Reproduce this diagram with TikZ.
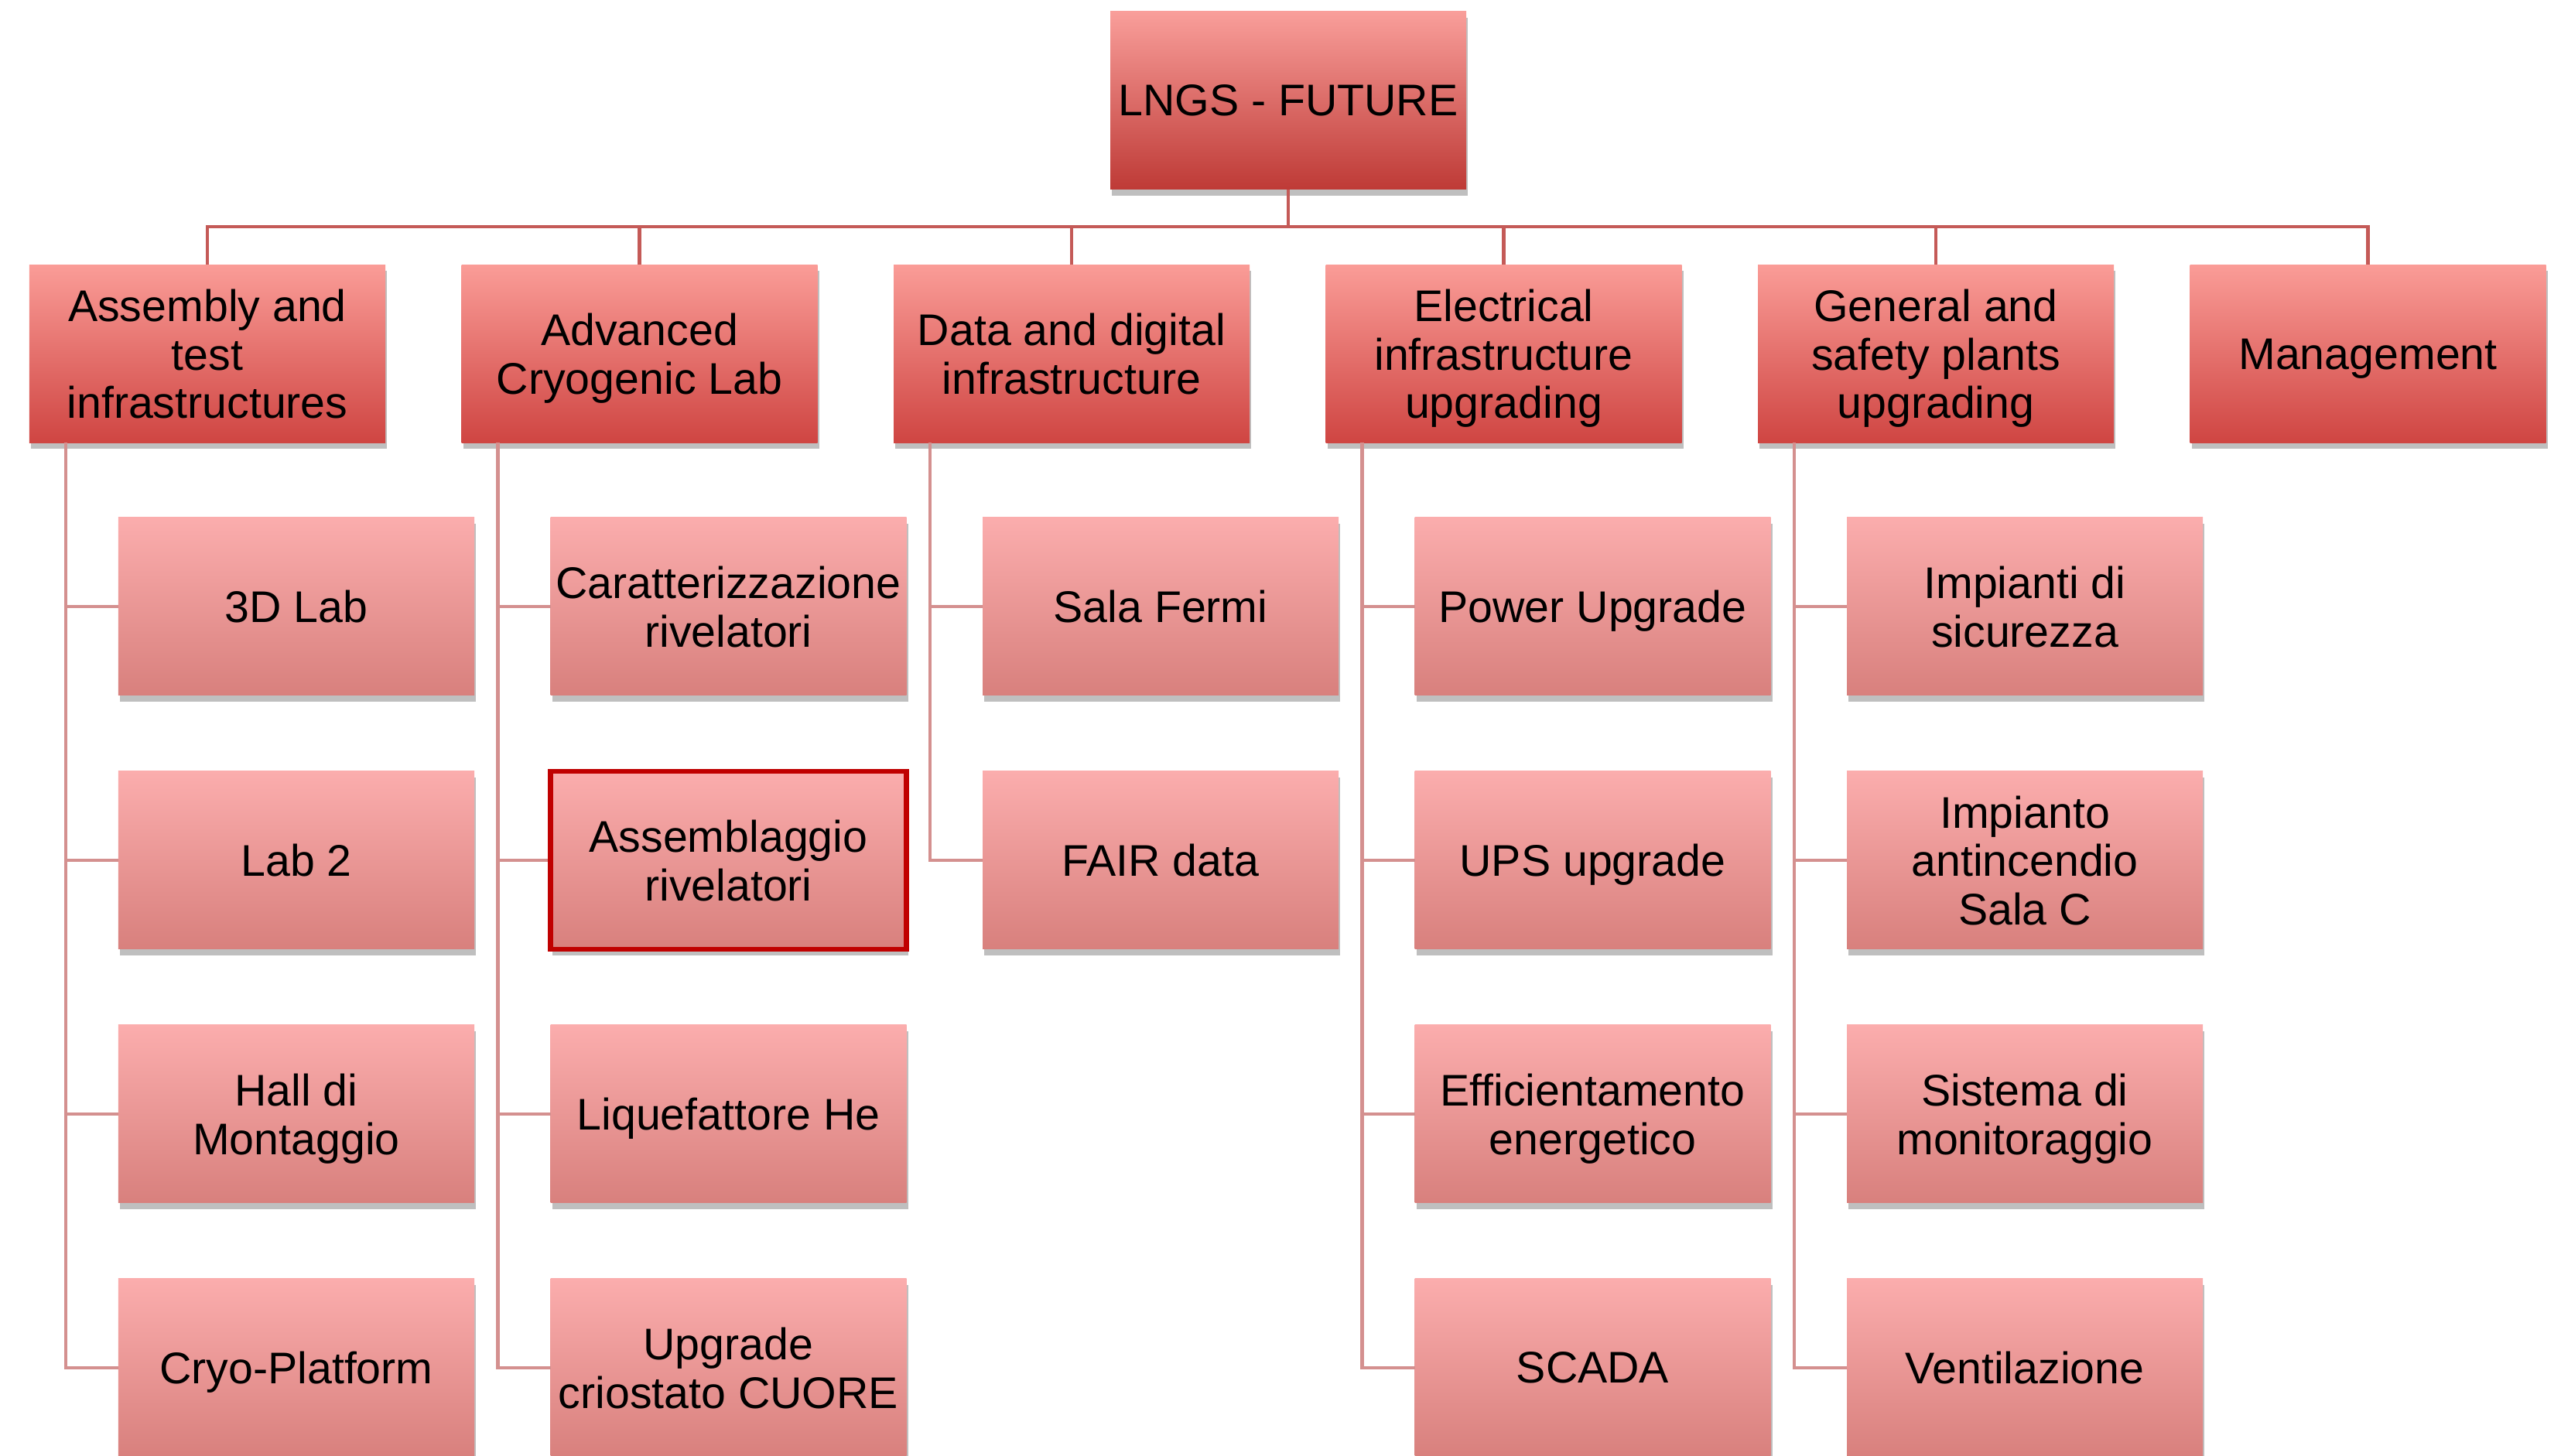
\documentclass[tikz,border=0pt]{standalone}
\usepackage{fontspec}
\setmainfont{Liberation Sans}
\usetikzlibrary{shadows}

\definecolor{busred}{HTML}{C45A57}
\definecolor{linkred}{HTML}{D4908F}
\definecolor{markred}{HTML}{C00000}

\tikzset{
  box/.style={rectangle, minimum width=4.6cm, minimum height=2.3cm,
    inner sep=0pt, outer sep=0pt, align=center, text depth=0pt,
    font=\fontsize{16.3}{17.8}\selectfont,
    drop shadow={shadow xshift=0.02cm, shadow yshift=-0.08cm, opacity=0.25, fill=black}},
  topbox/.style={box, top color={rgb,255:red,249;green,158;blue,154},
    middle color={rgb,255:red,232;green,124;blue,120},
    bottom color={rgb,255:red,190;green,58;blue,54}},
  catbox/.style={box, top color={rgb,255:red,250;green,156;blue,151},
    middle color={rgb,255:red,236;green,128;blue,124},
    bottom color={rgb,255:red,207;green,69;blue,66}},
  itembox/.style={box, top color={rgb,255:red,251;green,173;blue,173},
    middle color={rgb,255:red,238;green,155;blue,153},
    bottom color={rgb,255:red,216;green,128;blue,125}},
  marked/.style={draw=markred, line width=1.8pt},
  bus/.style={busred, line width=1.2pt},
  link/.style={linkred, line width=1.2pt}
}

\begin{document}
\begin{tikzpicture}
    \useasboundingbox (0,0) rectangle (33.1,18.82);

    % Radice
    \node[topbox] (root) at (16.65,17.52) {LNGS - FUTURE};

    % Primo livello
    \node[catbox] (asm)  at (2.68,14.245)   {Assembly and\\test\\infrastructures};
    \node[catbox] (cryo) at (8.265,14.245)  {Advanced\\Cryogenic Lab};
    \node[catbox] (data) at (13.85,14.245)  {Data and digital\\infrastructure};
    \node[catbox] (elec) at (19.435,14.245) {Electrical\\infrastructure\\upgrading};
    \node[catbox] (gen)  at (25.02,14.245)  {General and\\safety plants\\upgrading};
    \node[catbox] (mgmt) at (30.605,14.245) {Management};

    % Collegamenti radice -> primo livello
    \foreach \c in {asm,cryo,data,elec,gen,mgmt}
        \draw[bus] (root.south) -- ++(0,-0.48) -| (\c.north);

    % Secondo livello
    \foreach \t [count=\k] in {3D Lab, Lab 2, {Hall di\\Montaggio}, Cryo-Platform} {
        \node[itembox] (asm\k) at ([shift={(1.15,-3.28*\k+0.015)}]asm.center) {\t};
        \draw[link] ([xshift=0.47cm]asm.south west) |- (asm\k.west);
    }
    \foreach \t [count=\k] in {{Caratterizzazione\\rivelatori}, {Assemblaggio\\rivelatori},
                               Liquefattore He, {Upgrade\\criostato CUORE}} {
        \node[itembox] (cryo\k) at ([shift={(1.15,-3.28*\k+0.015)}]cryo.center) {\t};
        \draw[link] ([xshift=0.47cm]cryo.south west) |- (cryo\k.west);
    }
    \foreach \t [count=\k] in {Sala Fermi, FAIR data} {
        \node[itembox] (data\k) at ([shift={(1.15,-3.28*\k+0.015)}]data.center) {\t};
        \draw[link] ([xshift=0.47cm]data.south west) |- (data\k.west);
    }
    \foreach \t [count=\k] in {Power Upgrade, UPS upgrade, {Efficientamento\\energetico}, SCADA} {
        \node[itembox] (elec\k) at ([shift={(1.15,-3.28*\k+0.015)}]elec.center) {\t};
        \draw[link] ([xshift=0.47cm]elec.south west) |- (elec\k.west);
    }
    \foreach \t [count=\k] in {{Impianti di\\sicurezza}, {Impianto\\antincendio\\Sala C},
                               {Sistema di\\monitoraggio}, Ventilazione} {
        \node[itembox] (gen\k) at ([shift={(1.15,-3.28*\k+0.015)}]gen.center) {\t};
        \draw[link] ([xshift=0.47cm]gen.south west) |- (gen\k.west);
    }

    % Riquadro evidenziato
    \draw[marked] (cryo2.south west) rectangle (cryo2.north east);
\end{tikzpicture}
\end{document}
